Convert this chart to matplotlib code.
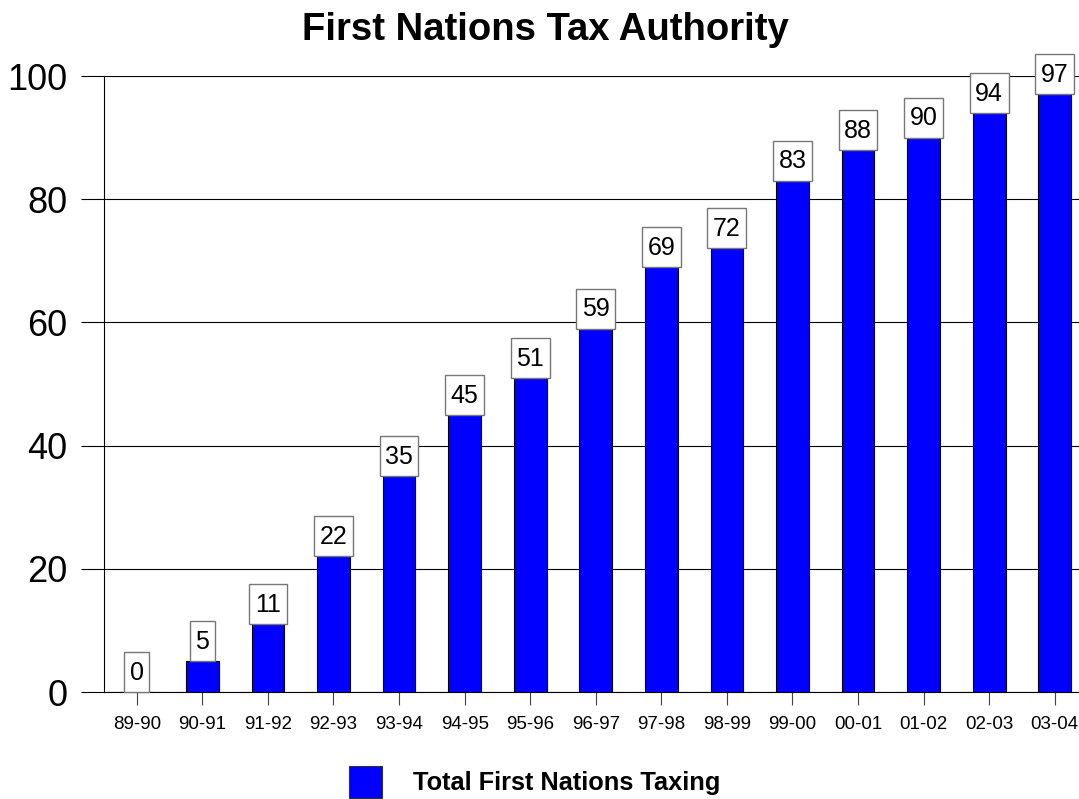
import matplotlib.pyplot as plt
import numpy as np
from matplotlib.patches import Rectangle
from matplotlib.transforms import ScaledTranslation

plt.rcParams['font.family'] = ['Liberation Sans', 'DejaVu Sans']

years = ['89-90', '90-91', '91-92', '92-93', '93-94', '94-95', '95-96', '96-97',
         '97-98', '98-99', '99-00', '00-01', '01-02', '02-03', '03-04']
taxing = [0, 5, 11, 22, 35, 45, 51, 59, 69, 72, 83, 88, 90, 94, 97]
y_ticks = [0, 20, 40, 60, 80, 100]

fig = plt.figure(figsize=(10.79, 7.99), dpi=100)
ax = fig.add_axes([104 / 1079, 107 / 799, 1 - 104 / 1079, 616 / 799])

x = np.arange(len(years))
ax.bar(x, taxing, width=0.5, color='#0000ff', edgecolor='black', linewidth=0.8, zorder=3)

# value boxes sized in pixels, sitting on the bar tops
lab_fs = 18
box_h = 40 / 100
for xi, v in zip(x, taxing):
    s = str(v)
    box_w = (len(s) * 13.9 + 11) / 100
    trans = fig.dpi_scale_trans + ScaledTranslation(xi, v, ax.transData)
    ax.add_patch(Rectangle((-box_w / 2, 0), box_w, box_h, transform=trans,
                           facecolor='white', edgecolor='#777777', linewidth=1,
                           zorder=4, clip_on=False))
    ax.annotate(s, (xi, v), xytext=(0, 8.8), textcoords='offset points',
                ha='center', va='baseline', fontsize=lab_fs, zorder=5,
                annotation_clip=False)

ax.set_xlim(-0.5, len(years) - 1 + 0.37)
ax.set_ylim(0, 100)
ax.set_yticks(y_ticks)
ax.set_yticklabels([str(t) for t in y_ticks], fontsize=26)
ax.set_xticks(x)
ax.set_xticklabels(years, fontsize=13.5)
ax.tick_params(axis='y', direction='out', length=16.5, width=0.8, pad=10)
ax.tick_params(axis='x', direction='out', length=9, width=0.8, pad=8, color='#444444')
ax.yaxis.grid(True, color='black', linewidth=0.8, zorder=0)
ax.set_axisbelow(True)
for s in ['top', 'right']:
    ax.spines[s].set_visible(False)
ax.spines['left'].set_linewidth(0.8)
ax.spines['bottom'].set_linewidth(0.8)

fig.text(0.505, 0.963, 'First Nations Tax Authority', ha='center', va='center',
         fontsize=27.5, fontweight='bold')

# legend
fig.patches.append(Rectangle((349 / 1079, 1 / 799), 33 / 1079, 32 / 799, transform=fig.transFigure,
                             facecolor='#0000ff', edgecolor='#333333', linewidth=0.8))
fig.text(413 / 1079, 16 / 799, 'Total First Nations Taxing', ha='left', va='center',
         fontsize=18.3, fontweight='bold')

fig.savefig('out.png', dpi=100)
